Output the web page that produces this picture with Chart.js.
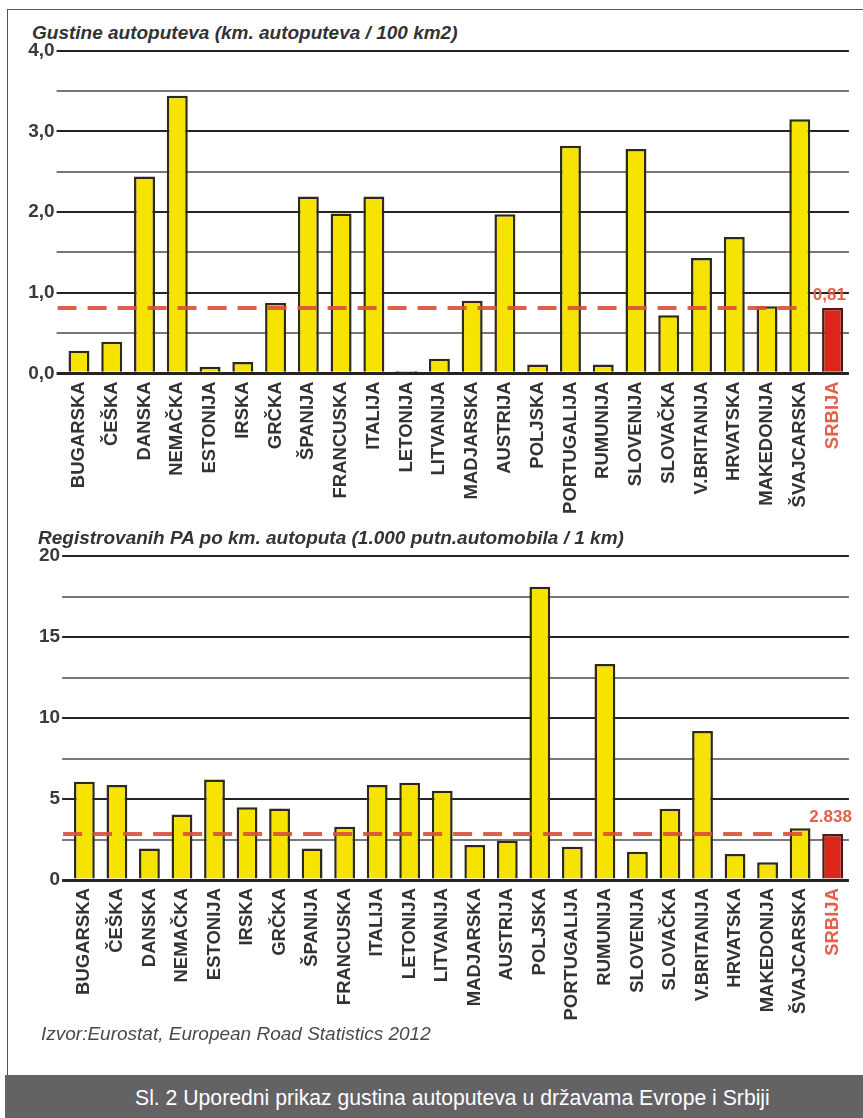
<!DOCTYPE html>
<html>
<head>
<meta charset="utf-8">
<script src="https://cdn.jsdelivr.net/npm/chart.js@4.4.1/dist/chart.umd.min.js"></script>
<style>
  html, body { margin: 0; padding: 0; background: #fff; }
  #page { position: relative; width: 863px; height: 1118px; overflow: hidden; background: #fff;
          font-family: "Liberation Sans", Arial, sans-serif; }
  .frame { position: absolute; left: 7px; top: 9px; width: 900px; height: 1080px;
           border-left: 1.5px solid #555; border-top: 1.5px solid #555; }
  canvas { position: absolute; left: 0; }
  .title { position: absolute; font-weight: bold; font-style: italic; font-size: 19px;
           color: #333; white-space: nowrap; line-height: 1; }
  .source { position: absolute; left: 41px; top: 1024px; font-style: italic; font-size: 19px;
            color: #4a4a4a; white-space: nowrap; line-height: 1; }
  .caption { position: absolute; left: 5px; top: 1075px; width: 858px; height: 43px; background: #636366; }
  .caption span { position: absolute; left: 130px; top: 12px; font-size: 21.2px; line-height: 1;
                  color: #fff; white-space: nowrap; }
</style>
</head>
<body>
<div id="page">
  <div class="frame"></div>
  <div class="title" style="left:32px; top:23px;">Gustine autoputeva (km. autoputeva / 100 km2)</div>
  <canvas id="density" width="863" height="500" style="top:30px;"></canvas>
  <div class="title" style="left:38px; top:528px;">Registrovanih PA po km. autoputa (1.000 putn.automobila / 1 km)</div>
  <canvas id="cars" width="863" height="520" style="top:530px;"></canvas>
  <div class="source">Izvor:Eurostat, European Road Statistics 2012</div>
  <div class="caption"><span>Sl. 2 Uporedni prikaz gustina autoputeva u državama Evrope i Srbiji</span></div>
</div>
<script>
// Countries on the category axis (Serbia last, highlighted)
const countries = ['BUGARSKA', 'ČEŠKA', 'DANSKA', 'NEMAČKA', 'ESTONIJA', 'IRSKA', 'GRČKA',
  'ŠPANIJA', 'FRANCUSKA', 'ITALIJA', 'LETONIJA', 'LITVANIJA', 'MADJARSKA', 'AUSTRIJA',
  'POLJSKA', 'PORTUGALIJA', 'RUMUNIJA', 'SLOVENIJA', 'SLOVAČKA', 'V.BRITANIJA', 'HRVATSKA',
  'MAKEDONIJA', 'ŠVAJCARSKA', 'SRBIJA'];

// Motorway density, km of motorway per 100 km2
const densityValues = [0.28, 0.39, 2.44, 3.44, 0.08, 0.14, 0.87, 2.19, 1.98, 2.19, 0.03, 0.18,
  0.90, 1.97, 0.11, 2.82, 0.11, 2.78, 0.72, 1.43, 1.69, 0.83, 3.15, 0.81];

// Registered passenger cars per km of motorway (1,000 cars / 1 km)
const carsValues = [6.07, 5.86, 1.95, 4.05, 6.21, 4.49, 4.42, 1.95, 3.29, 5.86, 6.01, 5.51,
  2.16, 2.43, 18.1, 2.06, 13.33, 1.75, 4.40, 9.2, 1.60, 1.09, 3.19, 2.838];

// Axis tick labels (major ticks only)
const densityTickLabels = ['0,0', '1,0', '2,0', '3,0', '4,0'];
const carsTickLabels = ['0', '5', '10', '15', '20'];

// Labels printed next to Serbia's reference line
const densityRefLabel = '0,81';
const carsRefLabel = '2.838';

const FONT = '"Liberation Sans", Arial, sans-serif';
const SRB = countries.length - 1;
const YELLOW = '#f6e400', RED = '#dc261b';

// Dashed reference line at Serbia's value plus its label
const refLinePlugin = {
  id: 'refLine',
  afterDraw(chart, args, o) {
    const { ctx, chartArea, scales: { x, y } } = chart;
    const py = y.getPixelForValue(o.value);
    const x0 = chartArea.left - 5;
    const x1 = x.getPixelForValue(SRB - 1) + 8;
    ctx.save();
    ctx.strokeStyle = 'rgba(216,80,56,0.9)';
    ctx.lineWidth = 4;
    ctx.setLineDash([19, 11]);
    ctx.beginPath();
    ctx.moveTo(x0, py);
    ctx.lineTo(x1, py);
    ctx.stroke();
    ctx.setLineDash([]);
    ctx.font = 'bold 17px ' + FONT;
    ctx.fillStyle = '#e3604a';
    ctx.textAlign = 'right';
    ctx.textBaseline = 'alphabetic';
    ctx.fillText(o.text, chartArea.right + o.dx, py + o.dy);
    ctx.restore();
  }
};

function makeChart(id, values, opts) {
  const ctxEl = document.getElementById(id);
  return new Chart(ctxEl, {
    type: 'bar',
    data: {
      labels: countries,
      datasets: [{
        data: values,
        backgroundColor: values.map((v, i) => i === SRB ? RED : YELLOW),
        borderColor: values.map((v, i) => i === SRB ? '#4f1a10' : '#2f2a18'),
        borderWidth: 2.5,
        barPercentage: 0.64,
        categoryPercentage: 1
      }]
    },
    options: {
      responsive: false,
      animation: false,
      devicePixelRatio: 1,
      layout: { padding: { top: opts.padTop, left: 0, right: opts.padRight, bottom: 0 } },
      plugins: {
        legend: { display: false },
        tooltip: { enabled: false },
        refLine: { value: values[SRB], text: opts.refText, dx: opts.labelDx, dy: opts.labelDy }
      },
      scales: {
        x: {
          afterFit: s => { s.height = opts.xHeight; },
          grid: { display: false, drawTicks: false },
          border: { display: false },
          ticks: {
            autoSkip: false, maxRotation: 90, minRotation: 90, padding: 8,
            font: { family: FONT, size: 18.5, weight: 'bold' },
            color: c => c.index === SRB ? '#e3604a' : '#333'
          }
        },
        y: {
          z: 1,
          min: 0, max: opts.max,
          afterFit: s => { s.width = opts.yWidth; },
          border: { display: false },
          grid: {
            drawTicks: true, tickLength: 6,
            color: c => {
              const k = Math.round(c.tick.value / opts.major * 2);
              return k % 2 === 0 ? '#262422' : '#7a7774';
            },
            lineWidth: c => c.tick.value === 0 ? 3 : 2
          },
          ticks: {
            stepSize: opts.major / 2, padding: 2,
            font: { family: FONT, size: 19, weight: 'bold' },
            color: '#3a3a3a',
            callback: v => {
              const k = Math.round(v / opts.major * 2);
              return k % 2 === 0 ? opts.tickLabels[k / 2] : '';
            }
          }
        }
      }
    },
    plugins: [refLinePlugin]
  });
}

makeChart('density', densityValues, {
  max: 4, major: 1, tickLabels: densityTickLabels, refText: densityRefLabel,
  padTop: 20.6, padRight: 11.6, yWidth: 62.6, xHeight: 156.7, labelDx: -3, labelDy: -8
});

makeChart('cars', carsValues, {
  max: 20, major: 5, tickLabels: carsTickLabels, refText: carsRefLabel,
  padTop: 26, padRight: 7.6, yWidth: 68.1, xHeight: 170, labelDx: 3, labelDy: -12
});
</script>
</body>
</html>
